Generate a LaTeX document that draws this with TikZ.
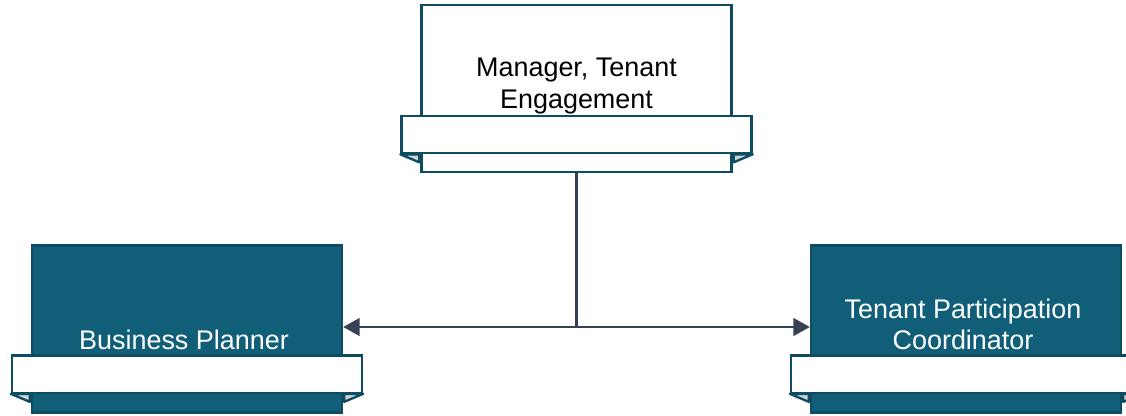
\documentclass[tikz,border=0pt]{standalone}
\usepackage{fontspec}
\setmainfont{Liberation Sans}
\usetikzlibrary{arrows.meta}

\definecolor{cardfill}{RGB}{17,94,120}
\definecolor{cardline}{RGB}{14,76,99}
\definecolor{linkcol}{RGB}{55,65,84}

\begin{document}
\begin{tikzpicture}[
    x=0.03cm, y=-0.03cm,
    card/.style={draw=cardline, line width=2pt, minimum width=9.3cm, minimum height=5.01cm, inner sep=0pt},
    banner/.style={draw=cardline, fill=white, line width=2pt, minimum width=10.5cm, minimum height=1.12cm, inner sep=0pt},
    fold/.style={fill=gray!35, draw=cardline, line width=2pt, line join=round},
    title/.style={align=center, font=\fontsize{23}{26.5}\selectfont},
    link/.style={draw=linkcol, line width=2pt},
    tip/.style={-{Triangle[length=14pt,width=15pt]}}
  ]

  \clip (0,0) rectangle (1126,415);
  \useasboundingbox (0,0) rectangle (1126,415);

  % cards
  \node[card, fill=white] (mgr) at (576.5,88.5) {};
  \node[card, fill=cardfill] (bp) at (187,329) {};
  \node[card, fill=cardfill] (tpc) at (966,329) {};

  % banners with folds
  \foreach \c/\y in {mgr/134.5, bp/374, tpc/374} {
    \node[banner] (\c-b) at (\c |- 0,\y) {};
    \filldraw[fold] (\c-b.south west) -- ++(19,8) -- ++(0,-8) -- cycle;
    \filldraw[fold] (\c-b.south east) -- ++(-19,8) -- ++(0,-8) -- cycle;
    \node[banner] at (\c-b) {};
  }

  % texts
  \node[title] (mgr-t) at (576.5,86) {Manager, Tenant\\Engagement};
  \node[title, text=white] (bp-t) at (184,340) {Business Planner};
  \node[title, text=white] (tpc-t) at (963,324) {Tenant Participation\\Coordinator};

  % connectors
  \coordinate (j) at (mgr.south |- 0,327);
  \draw[link] (mgr.south) -- (j);
  \draw[link, tip] (j) -- (bp.east |- j);
  \draw[link, tip] (j) -- (tpc.west |- j);

\end{tikzpicture}
\end{document}
